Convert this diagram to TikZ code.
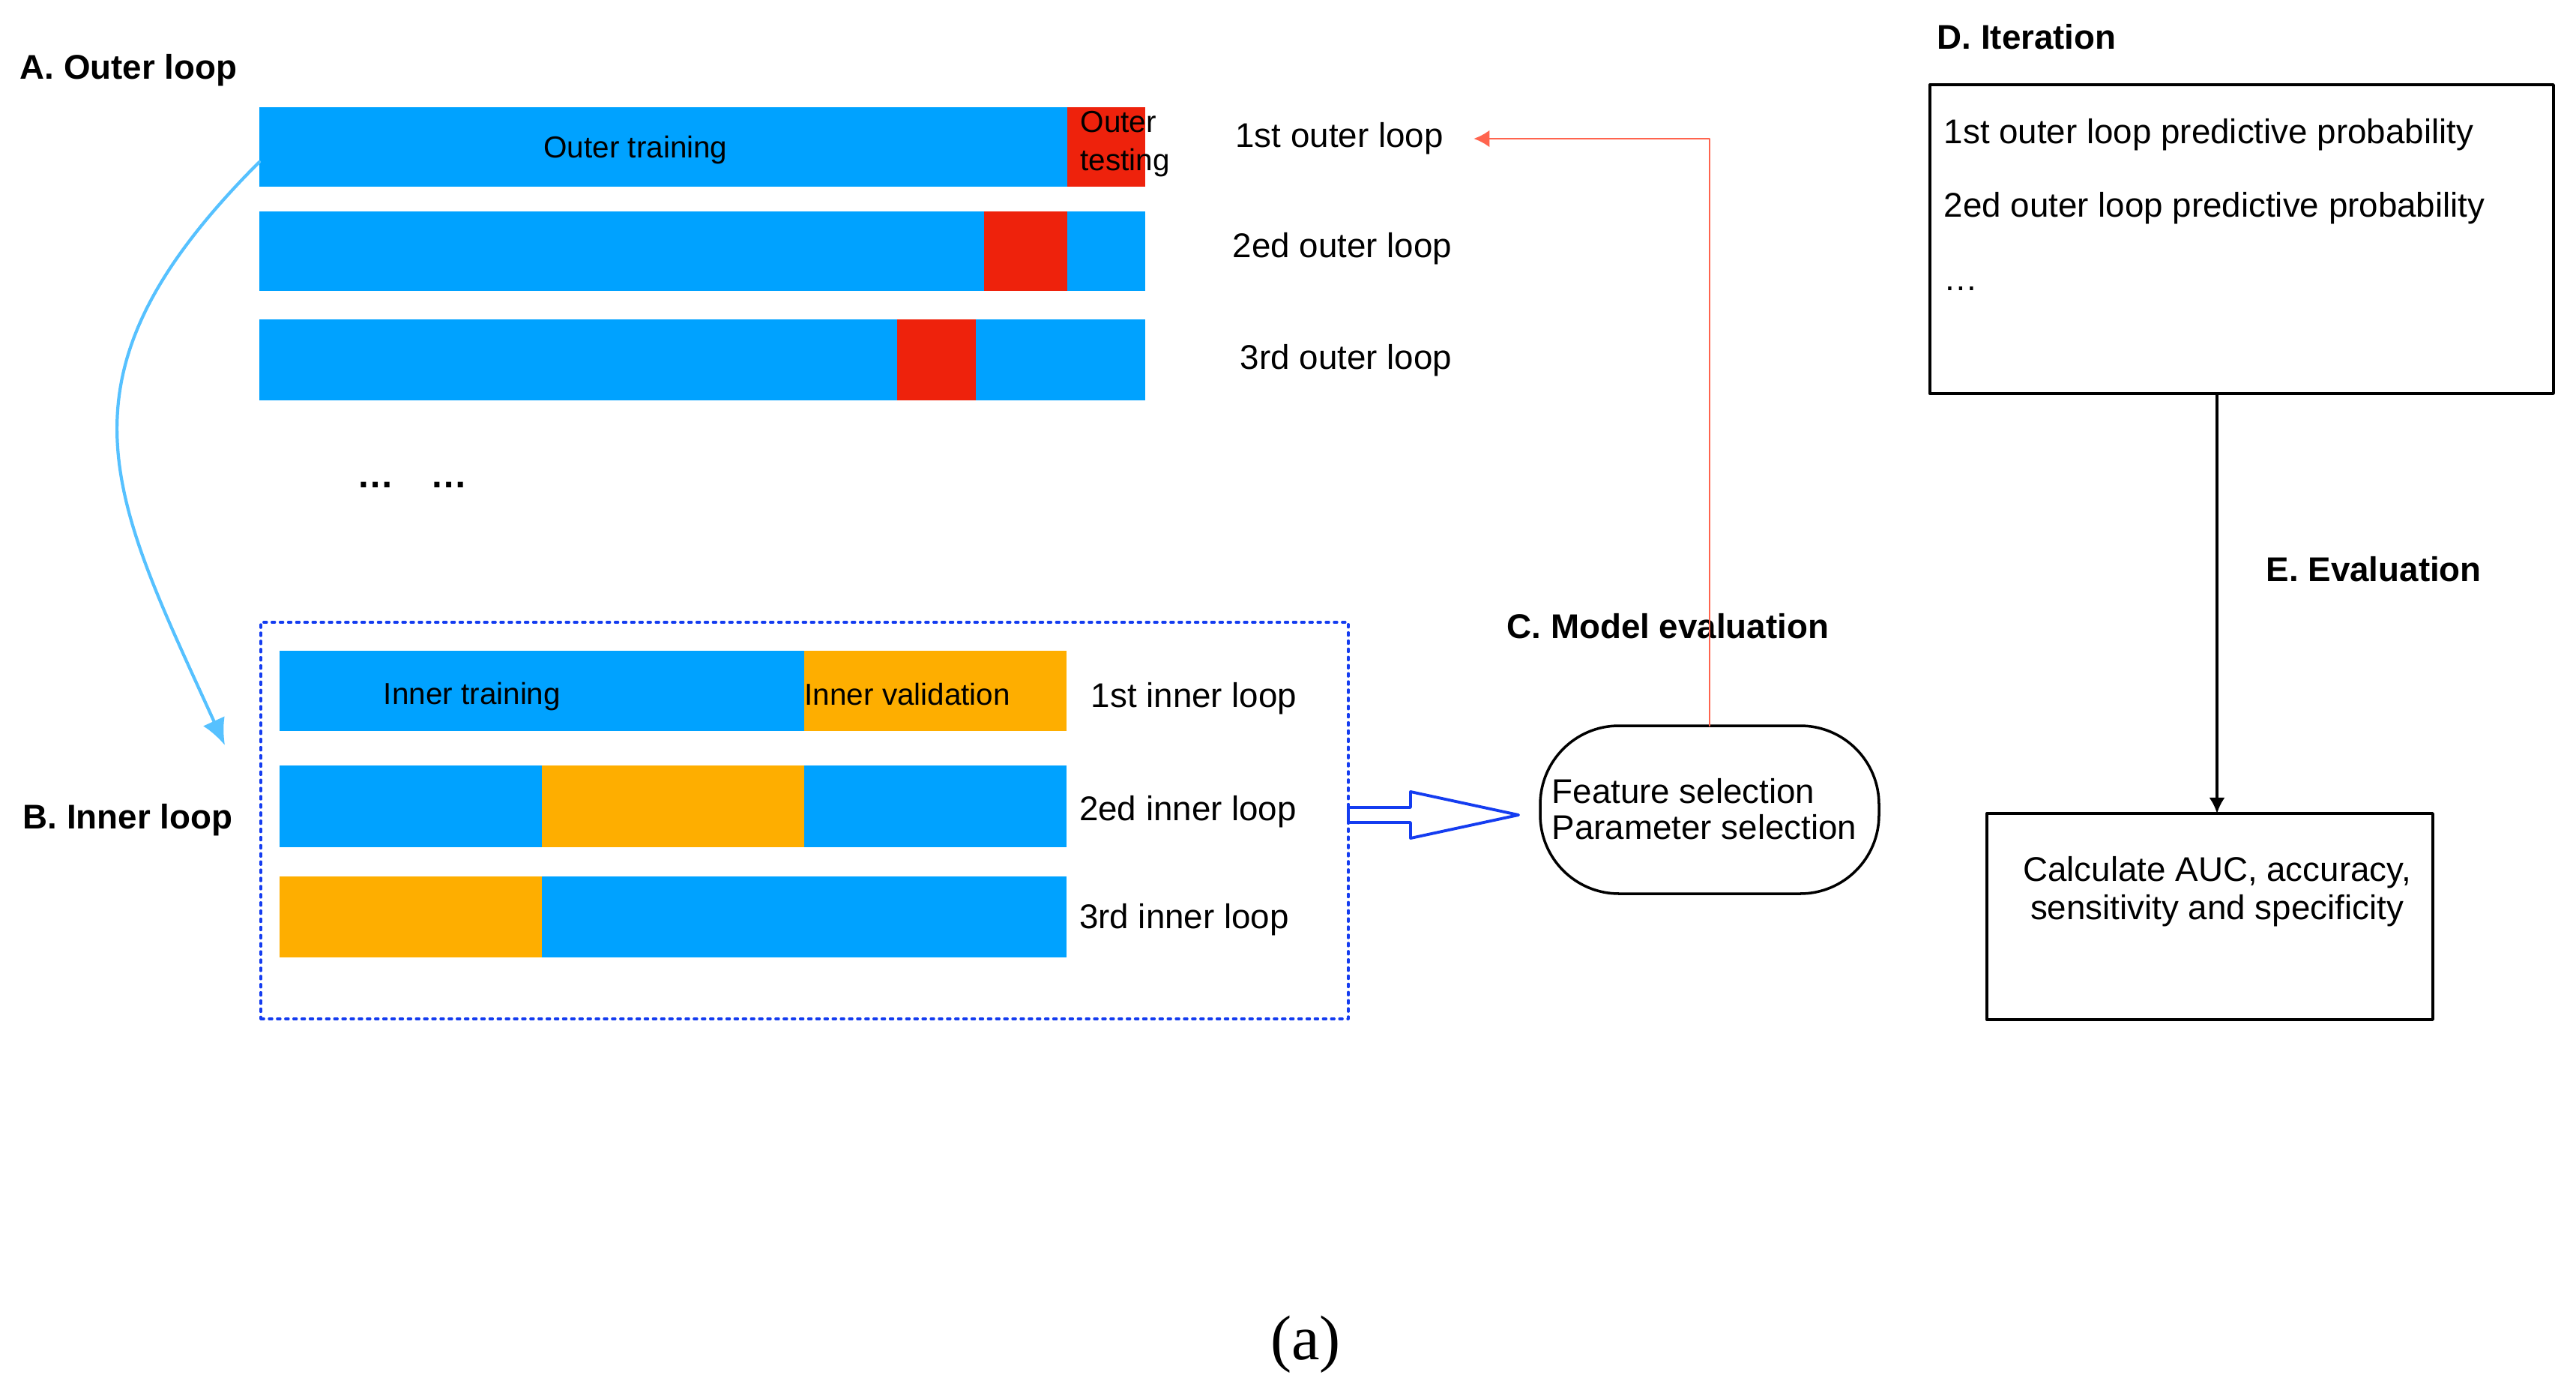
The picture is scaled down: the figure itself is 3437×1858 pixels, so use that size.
\documentclass[tikz,border=0pt]{standalone}
\usepackage{fontspec}
\setmainfont{Liberation Sans}
\newfontfamily\capfont{Liberation Serif}
\usetikzlibrary{arrows.meta,calc,fit,positioning}
\tikzset{>=Latex}
\definecolor{bblue}{RGB}{0,162,255}
\definecolor{rred}{RGB}{238,34,12}
\definecolor{oorange}{RGB}{254,174,0}
\definecolor{lblue}{RGB}{86,193,255}
\definecolor{salmon}{RGB}{255,100,78}
\definecolor{dblue}{RGB}{20,60,240}
\tikzset{seg/.style={inner sep=0pt,outer sep=0pt,draw=none},
lab/.style={inner sep=0pt,font=\fontsize{13}{15.6}\selectfont},
blab/.style={inner sep=0pt,font=\fontsize{11.5}{14.5}\selectfont},
hd/.style={inner sep=0pt,anchor=west,font=\bfseries\fontsize{13}{15.6}\selectfont}}

\begin{document}
\begin{tikzpicture}[line cap=round,line join=round,x=0.01cm,y=-0.01cm]
\useasboundingbox (0,0) rectangle (3437,1858);
% A. outer loop
\node[hd] (hA) at (26,94) {A. Outer loop};
\node[seg,fill=bblue,fit={(346,143) (1424,249)}] (o1a) {};
\node[seg,fill=rred,fit={(1424,143) (1528,249)}] (o1b) {};
\node[seg,fill=bblue,fit={(346,282) (1313,388)}] (o2a) {};
\node[seg,fill=rred,fit={(1313,282) (1424,388)}] (o2b) {};
\node[seg,fill=bblue,fit={(1424,282) (1528,388)}] (o2c) {};
\node[seg,fill=bblue,fit={(346,426) (1197,534)}] (o3a) {};
\node[seg,fill=rred,fit={(1197,426) (1302,534)}] (o3b) {};
\node[seg,fill=bblue,fit={(1302,426) (1528,534)}] (o3c) {};
\node[blab] (otr) at (848,200) {Outer training};
\node[blab,anchor=west,align=left] (ote) at (1441,192) {Outer\\testing};
\node[lab] (l1) at (1787,185) {1st outer loop};
\node[lab] (l2) at (1791,332) {2ed outer loop};
\node[lab] (l3) at (1796,481) {3rd outer loop};
\node[lab,font=\bfseries\fontsize{14}{16}\selectfont] (dots) at (550,647) {…\quad…};
% B. inner loop
\node[hd] (hB) at (30,1094) {B. Inner loop};
\node[seg,draw=dblue,line width=0.9pt,dash pattern=on 1.2pt off 1.9pt,fit={(348,830) (1799,1359)}] (inbox) {};
\node[seg,fill=bblue,fit={(373,868) (1073,975)}] (i1a) {};
\node[seg,fill=oorange,fit={(1073,868) (1423,975)}] (i1b) {};
\node[seg,fill=bblue,fit={(373,1021) (723,1130)}] (i2a) {};
\node[seg,fill=oorange,fit={(723,1021) (1073,1130)}] (i2b) {};
\node[seg,fill=bblue,fit={(1073,1021) (1423,1130)}] (i2c) {};
\node[seg,fill=oorange,fit={(373,1169) (723,1277)}] (i3a) {};
\node[seg,fill=bblue,fit={(723,1169) (1423,1277)}] (i3b) {};
\node[blab] (itr) at (630,929) {Inner training};
\node[blab,anchor=west] (iva) at (1073,926) {Inner validation};
\node[lab] (k1) at (1593,932) {1st inner loop};
\node[lab] (k2) at (1585,1083) {2ed inner loop};
\node[lab] (k3) at (1580,1227) {3rd inner loop};
\coordinate (ctip) at (300,994);
\draw[lblue,line width=1.2pt,-{Latex[length=10pt,width=9pt]}] ([yshift=-0.2cm]o1a.west) .. controls (59,503) and (147,658) .. (ctip);
% C. model evaluation
\node[hd] (hC) at (2010,835) {C. Model evaluation};
\node[seg,draw,line width=1pt,rounded corners=1.05cm,fit={(2055,968) (2507,1192)}] (ev) {};
\node[lab,anchor=west,align=left,font=\fontsize{13}{13.7}\selectfont] (evt) at (2070,1079) {Feature selection\\Parameter selection};
\draw[dblue,line width=1.1pt,fill=white] (1799,1077) -- (1882,1077) -- (1882,1056) -- (2026,1087) -- (1882,1118) -- (1882,1097) -- (1799,1097) -- cycle;
\draw[salmon,line width=0.8pt,-{Latex[length=6pt,width=6.5pt]}] (ev.north) |- ([xshift=0.4cm,yshift=0cm]l1.east);
% D. iteration
\node[hd] (hD) at (2584,49) {D. Iteration};
\node[seg,draw,line width=1pt,fit={(2575,113) (3407,525)}] (itbox) {};
\node[lab,anchor=base west] (it1) at (2593,192) {1st outer loop predictive probability};
\node[lab,anchor=base west] (it2) at (2593,290) {2ed outer loop predictive probability};
\node[lab,anchor=base west] (it3) at (2593,388) {…};
% E. evaluation
\node[hd] (hE) at (3023,759) {E. Evaluation};
\node[seg,draw,line width=1pt,fit={(2651,1085) (3246,1360)}] (evbox) {};
\node[lab,align=center,font=\fontsize{13}{14.5}\selectfont] (calctext) at (2958,1189) {Calculate AUC, accuracy,\\sensitivity and specificity};
\draw[line width=1pt,-{Latex[length=6pt,width=6pt]}] (calctext |- itbox.south) -- (calctext |- evbox.north);
% caption
\node[inner sep=0pt,font=\capfont\fontsize{24}{28}\selectfont] (cap) at (1742,1793) {(a)};
\end{tikzpicture}
\end{document}
